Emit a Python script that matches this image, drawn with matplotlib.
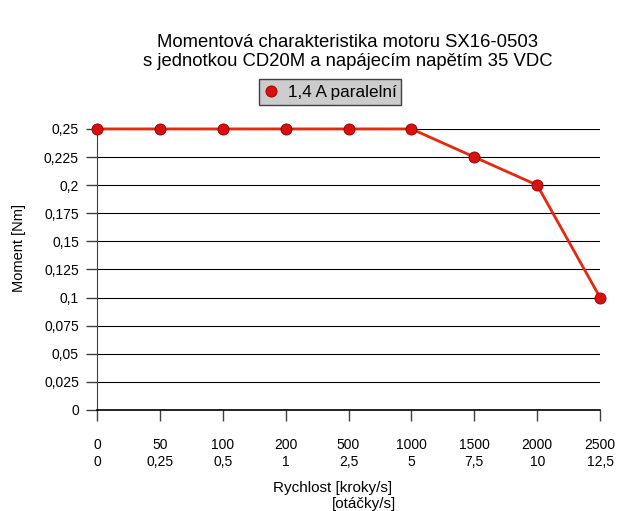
import matplotlib.pyplot as plt

kroky = ['0', '50', '100', '200', '500', '1000', '1500', '2000', '2500']
otacky = ['0', '0,25', '0,5', '1', '2,5', '5', '7,5', '10', '12,5']
moment = [0.25, 0.25, 0.25, 0.25, 0.25, 0.25, 0.225, 0.2, 0.1]
yticks = [0, 0.025, 0.05, 0.075, 0.1, 0.125, 0.15, 0.175, 0.2, 0.225, 0.25]

plt.rcParams['font.family'] = ['Liberation Sans', 'DejaVu Sans']
fig = plt.figure(figsize=(6.18, 5.11), dpi=100)
ax = fig.add_axes([0.157, 0.1977, 0.814, 0.55])

xx = list(range(len(kroky)))
ax.plot(xx, moment, color='#e8280c', lw=2, marker='o', ms=8,
        mfc='#d81010', mec='#900000', mew=0.6, label='1,4 A paralelní',
        clip_on=False, zorder=5)

ax.set_xlim(0, len(kroky) - 1)
ax.set_ylim(0, 0.25)
ax.set_yticks(yticks)
ax.set_yticklabels([('%g' % v).replace('.', ',') for v in yticks], fontsize=10)
ax.set_xticks(xx)
ax.set_xticklabels([a + '\n' + b for a, b in zip(kroky, otacky)], fontsize=10, linespacing=1.3)
ax.tick_params(direction='out', length=8, width=1, colors='#404040', labelcolor='black')
ax.tick_params(axis='x', pad=12)
ax.tick_params(axis='y', pad=5)
ax.grid(axis='y', color='black', lw=0.8)
ax.set_axisbelow(True)
for s in ['top', 'right']:
    ax.spines[s].set_visible(False)
ax.spines['left'].set_color('#404040')
ax.spines['bottom'].set_color('black')
ax.spines['bottom'].set_linewidth(1.2)

ax.set_ylabel('Moment [Nm]', fontsize=10.5)
ax.yaxis.set_label_coords(-0.141, 0.577)
fig.text(333 / 618, 1 - 488 / 511, 'Rychlost [kroky/s]', ha='center', va='center', fontsize=11)
fig.text(364 / 618, 1 - 504 / 511, '[otáčky/s]', ha='center', va='center', fontsize=11)

fig.suptitle('Momentová charakteristika motoru SX16-0503\ns jednotkou CD20M a napájecím napětím 35 VDC',
             x=0.563, y=1 - 52 / 511, va='center', fontsize=13.3, linespacing=1.2)

leg = fig.legend(loc='center', bbox_to_anchor=(330 / 618, 1 - 92 / 511), fontsize=12.3,
                 frameon=True, fancybox=False, handlelength=0.8, handletextpad=0.6,
                 borderpad=0.3, borderaxespad=0)
leg.get_frame().set_facecolor('#cccccc')
leg.get_frame().set_edgecolor('#404040')
leg.get_frame().set_alpha(1)
for h in leg.get_lines():
    h.set_linestyle('none')

fig.savefig('out.png', dpi=100)
